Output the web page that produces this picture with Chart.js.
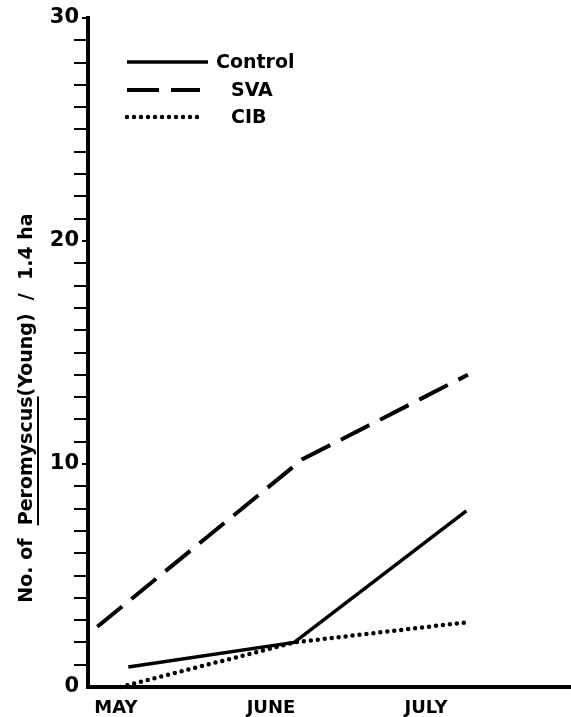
<!DOCTYPE html>
<html>
<head>
<meta charset="utf-8">
<script src="https://cdn.jsdelivr.net/npm/chart.js@4/dist/chart.umd.min.js"></script>
<style>
html, body { margin: 0; padding: 0; background: #fff; }
#wrap { width: 571px; height: 717px; position: relative; }
</style>
</head>
<body>
<div id="wrap"><canvas id="youngChart"></canvas></div>
<script>
// months on the x axis (month index 0, 1, 2)
var months = ['MAY', 'JUNE', 'JULY'];
var yTickLabels = [0, 10, 20, 30];

// points as drawn in the figure: month position, count per 1.4 ha
var controlX = [0.08, 1.15, 2.26];
var controlY = [0.9, 2.0, 7.9];
var svaX = [-0.12, 1.2, 2.27];
var svaY = [2.7, 10.2, 14.0];
var cibX = [0.03, 1.15, 2.26];
var cibY = [0, 2.0, 2.9];

var FONT = "'DejaVu Sans', 'Liberation Sans', sans-serif";

function toPoints(xs, ys) {
    return xs.map(function (x, i) { return { x: x, y: ys[i] }; });
}

var figureDecor = {
    id: 'figureDecor',
    afterDraw: function (chart) {
        var ctx = chart.ctx;
        ctx.save();
        ctx.fillStyle = '#000';
        ctx.strokeStyle = '#000';

        // legend, drawn like the hand lettered key
        var keys = [
            { ds: 0, y: 62, x1: 208, tx: 216 },
            { ds: 1, y: 90, x1: 200, tx: 231 },
            { ds: 2, y: 117, x1: 200, tx: 231 }
        ];
        ctx.font = 'bold 19px ' + FONT;
        ctx.textBaseline = 'middle';
        ctx.textAlign = 'left';
        keys.forEach(function (k) {
            var ds = chart.data.datasets[k.ds];
            ctx.beginPath();
            ctx.lineWidth = ds.borderWidth;
            ctx.lineCap = ds.borderCapStyle || 'butt';
            ctx.setLineDash(ds.borderDash || []);
            ctx.moveTo(127, k.y);
            ctx.lineTo(k.x1, k.y);
            ctx.stroke();
            ctx.setLineDash([]);
            ctx.fillText(ds.label, k.tx, k.y + 1);
        });

        // short nubs beside the labelled ticks
        var yScale = chart.scales.y;
        yTickLabels.forEach(function (v) {
            if (v === 0) {
                return;
            }
            var py = Math.round(yScale.getPixelForValue(v));
            ctx.fillRect(yScale.right - 6, py - 1, 6, 2);
        });

        // rotated y title with underlined genus
        ctx.translate(27, 408);
        ctx.rotate(-Math.PI / 2);
        ctx.font = 'bold 19px ' + FONT;
        var parts = ['No. of  ', 'Peromyscus', '(Young)  /  1.4 ha'];
        var widths = parts.map(function (p) { return ctx.measureText(p).width; });
        var total = widths.reduce(function (a, b) { return a + b; }, 0);
        var x = -total / 2;
        parts.forEach(function (p, i) {
            ctx.fillText(p, x, 0);
            if (i === 1) {
                ctx.fillRect(x, 10, widths[i], 2);
            }
            x += widths[i];
        });
        ctx.restore();
    }
};

var ctx = document.getElementById('youngChart').getContext('2d');
new Chart(ctx, {
    type: 'line',
    data: {
        datasets: [{
            label: 'Control',
            data: toPoints(controlX, controlY),
            borderColor: '#000',
            borderWidth: 3.5,
            pointRadius: 0,
            tension: 0,
            clip: false
        }, {
            label: 'SVA',
            data: toPoints(svaX, svaY),
            borderColor: '#000',
            borderWidth: 4,
            borderDash: [32, 12],
            pointRadius: 0,
            tension: 0,
            clip: false
        }, {
            label: 'CIB',
            data: toPoints(cibX, cibY),
            borderColor: '#000',
            borderWidth: 4.5,
            borderDash: [0, 7],
            borderCapStyle: 'round',
            pointRadius: 0,
            tension: 0,
            clip: false
        }]
    },
    options: {
        responsive: true,
        maintainAspectRatio: false,
        animation: false,
        layout: { padding: { top: 18, right: 0, left: 0, bottom: 0 } },
        plugins: {
            legend: { display: false },
            tooltip: { enabled: false }
        },
        scales: {
            x: {
                type: 'linear',
                min: -0.18,
                max: 2.935,
                afterBuildTicks: function (scale) {
                    scale.ticks = months.map(function (m, i) { return { value: i }; });
                },
                afterFit: function (scale) { scale.height = 30; },
                ticks: {
                    color: '#000',
                    padding: 3,
                    font: { family: FONT, weight: 'bold', size: 18 },
                    callback: function (v) { return months[v] || ''; }
                },
                grid: { display: false },
                border: { display: true, color: '#000', width: 4 }
            },
            y: {
                min: 0,
                max: 30,
                afterFit: function (scale) { scale.width = 88; },
                ticks: {
                    stepSize: 1,
                    autoSkip: false,
                    color: '#000',
                    padding: -5,
                    font: { family: FONT, weight: 'bold', size: 21 },
                    callback: function (v) {
                        return yTickLabels.indexOf(v) >= 0 ? v : '';
                    }
                },
                grid: {
                    display: true,
                    drawOnChartArea: false,
                    drawTicks: true,
                    tickLength: 14,
                    color: function (c) {
                        return c.tick && yTickLabels.indexOf(c.tick.value) >= 0 ? 'rgba(0,0,0,0)' : '#000';
                    },
                    lineWidth: 2
                },
                border: { display: true, color: '#000', width: 4 }
            }
        }
    },
    plugins: [figureDecor]
});
</script>
</body>
</html>
